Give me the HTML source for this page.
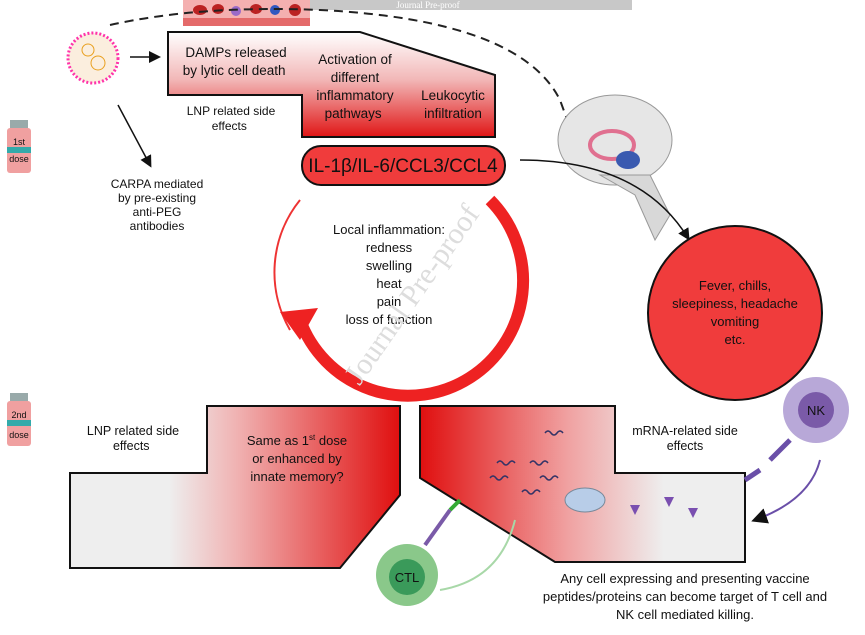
<!DOCTYPE html>
<html><head><meta charset="utf-8"><style>
body{margin:0;background:#fff;width:865px;height:630px;overflow:hidden;font-family:"Liberation Sans",sans-serif}
svg text{font-family:"Liberation Sans",sans-serif;fill:#111}
</style></head><body>
<svg width="865" height="630" viewBox="0 0 865 630" xmlns="http://www.w3.org/2000/svg">
<defs>
<linearGradient id="gv" x1="0" y1="0" x2="0" y2="1"><stop offset="0" stop-color="#fff"/><stop offset="0.45" stop-color="#f2b8b8"/><stop offset="1" stop-color="#e01515"/></linearGradient>
<linearGradient id="gl" x1="70" y1="0" x2="400" y2="0" gradientUnits="userSpaceOnUse"><stop offset="0" stop-color="#eee"/><stop offset="0.3" stop-color="#eee"/><stop offset="0.5" stop-color="#f0b4b4"/><stop offset="1" stop-color="#e00f0f"/></linearGradient>
<linearGradient id="gr" x1="420" y1="0" x2="745" y2="0" gradientUnits="userSpaceOnUse"><stop offset="0" stop-color="#e00f0f"/><stop offset="0.45" stop-color="#f0a0a0"/><stop offset="0.75" stop-color="#eee"/><stop offset="1" stop-color="#eee"/></linearGradient>
<marker id="ah" markerWidth="8" markerHeight="8" refX="6" refY="4" orient="auto"><path d="M0,0 L8,4 L0,8 z" fill="#111"/></marker>
</defs>
<!-- watermark bar -->
<rect x="225" y="0" width="407" height="10" fill="#c8c8c8"/>
<text x="428" y="8" font-size="9" text-anchor="middle" style="fill:#fff;font-family:'Liberation Serif',serif">Journal Pre-proof</text>
<!-- vessel -->
<rect x="183" y="0" width="127" height="26" fill="#e46a6a"/>
<rect x="183" y="0" width="127" height="18" fill="#f4b0b0"/>
<ellipse cx="200" cy="10" rx="7" ry="5" fill="#b22"/><ellipse cx="218" cy="9" rx="6" ry="5" fill="#b22"/><circle cx="236" cy="11" r="5" fill="#9a6ac8"/><ellipse cx="256" cy="9" rx="6" ry="5" fill="#b22"/><circle cx="275" cy="10" r="5" fill="#3158c0"/><circle cx="295" cy="10" r="6" fill="#b22"/>
<!-- dashed -->
<path d="M110,25 Q200,5 320,10 Q520,20 560,100 L580,155" fill="none" stroke="#222" stroke-width="2" stroke-dasharray="9,6" marker-end="url(#ah)"/>
<!-- LNP -->
<circle cx="93" cy="58" r="25" fill="#fbeede" stroke="#f3a" stroke-width="3" stroke-dasharray="2,2"/>
<circle cx="88" cy="50" r="6" fill="none" stroke="#e9a020"/><circle cx="98" cy="63" r="7" fill="none" stroke="#e9a020"/>
<line x1="130" y1="57" x2="158" y2="57" stroke="#111" stroke-width="1.5" marker-end="url(#ah)"/>
<line x1="118" y1="105" x2="150" y2="165" stroke="#111" stroke-width="1.5" marker-end="url(#ah)"/>
<!-- top shape -->
<path d="M168,32 L360,32 L495,75 L495,137 L302,137 L302,95 L168,95 Z" fill="url(#gv)" stroke="#111" stroke-width="2"/>
<text font-size="13.5" text-anchor="middle"><tspan x="236" y="57">DAMPs released</tspan><tspan x="236" y="75">by lytic cell death</tspan>
<tspan x="355" y="64">Activation of</tspan><tspan x="355" y="82">different</tspan><tspan x="355" y="100">inflammatory</tspan><tspan x="355" y="118">pathways</tspan>
<tspan x="453" y="100">Leukocytic</tspan><tspan x="453" y="118">infiltration</tspan></text>
<text font-size="12" text-anchor="middle"><tspan x="231" y="115">LNP related side</tspan><tspan x="231" y="130">effects</tspan>
<tspan x="157" y="188">CARPA mediated</tspan><tspan x="157" y="202">by pre-existing</tspan><tspan x="157" y="216">anti-PEG</tspan><tspan x="157" y="230">antibodies</tspan></text>
<!-- vials -->
<g><rect x="10" y="120" width="18" height="8" fill="#9aa"/><rect x="7" y="128" width="24" height="45" rx="3" fill="#f0a0a0"/><rect x="7" y="147" width="24" height="6" fill="#3aa"/><text x="19" y="145" font-size="9" text-anchor="middle">1st</text><text x="19" y="162" font-size="9" text-anchor="middle">dose</text></g>
<g><rect x="10" y="393" width="18" height="8" fill="#9aa"/><rect x="7" y="401" width="24" height="45" rx="3" fill="#f0a0a0"/><rect x="7" y="420" width="24" height="6" fill="#3aa"/><text x="19" y="418" font-size="9" text-anchor="middle">2nd</text><text x="19" y="438" font-size="9" text-anchor="middle">dose</text></g>
<!-- circle arrow -->
<path d="M300,200 A115,115 0 0 0 290,330" fill="none" stroke="#e33" stroke-width="2"/>
<path d="M490,200 A115,115 0 1 1 300,320" fill="none" stroke="#e22" stroke-width="12"/>
<path d="M280,312 L318,308 L300,340 Z" fill="#e22"/>
<rect x="302" y="146" width="203" height="39" rx="19" fill="#f03c3c" stroke="#111" stroke-width="2"/>
<text x="403" y="172" font-size="19" text-anchor="middle">IL-1β/IL-6/CCL3/CCL4</text>
<text font-size="13" text-anchor="middle"><tspan x="389" y="234">Local inflammation:</tspan><tspan x="389" y="252">redness</tspan><tspan x="389" y="270">swelling</tspan><tspan x="389" y="288">heat</tspan><tspan x="389" y="306">pain</tspan><tspan x="389" y="324">loss of function</tspan></text>
<text x="420" y="300" font-size="30" transform="rotate(-55 420 300)" text-anchor="middle" style="fill:#ddd;font-family:'Liberation Serif',serif">Journal Pre-proof</text>
<!-- brain -->
<ellipse cx="615" cy="140" rx="57" ry="45" fill="#e6e6e6" stroke="#999"/>
<ellipse cx="612" cy="145" rx="22" ry="14" fill="none" stroke="#e07090" stroke-width="4"/>
<ellipse cx="628" cy="160" rx="12" ry="9" fill="#3a5ab0"/>
<path d="M600,175 L650,175 L670,215 L655,240 L635,195 Z" fill="#d8d8d8" stroke="#999"/>
<path d="M520,160 Q640,160 688,238" fill="none" stroke="#111" stroke-width="1.5" marker-end="url(#ah)"/>
<circle cx="735" cy="313" r="87" fill="#f03c3c" stroke="#111" stroke-width="2"/>
<text font-size="13" text-anchor="middle"><tspan x="735" y="290">Fever, chills,</tspan><tspan x="735" y="308">sleepiness, headache</tspan><tspan x="735" y="326">vomiting</tspan><tspan x="735" y="344">etc.</tspan></text>
<!-- bottom shapes -->
<path d="M207,406 L400,406 L400,495 L340,568 L70,568 L70,473 L207,473 Z" fill="url(#gl)" stroke="#111" stroke-width="2"/>
<path d="M420,406 L615,406 L615,473 L745,473 L745,562 L555,562 L420,478 Z" fill="url(#gr)" stroke="#111" stroke-width="2"/>
<text font-size="12.5" text-anchor="middle"><tspan x="133" y="435">LNP related side</tspan><tspan x="133" y="450">effects</tspan>
<tspan x="685" y="435">mRNA-related side</tspan><tspan x="685" y="450">effects</tspan></text>
<text font-size="13" text-anchor="middle"><tspan x="297" y="445">Same as 1<tspan font-size="8" dy="-5">st</tspan><tspan dy="5"> dose</tspan></tspan><tspan x="297" y="463">or enhanced by</tspan><tspan x="297" y="481">innate memory?</tspan></text>
<g fill="none" stroke="#336" stroke-width="1.5"><path d="M545,433 q3,-4 6,0 q3,4 6,0 q3,-4 6,0"/><path d="M497,463 q3,-4 6,0 q3,4 6,0 q3,-4 6,0"/><path d="M530,463 q3,-4 6,0 q3,4 6,0 q3,-4 6,0"/><path d="M490,478 q3,-4 6,0 q3,4 6,0 q3,-4 6,0"/><path d="M540,478 q3,-4 6,0 q3,4 6,0 q3,-4 6,0"/><path d="M522,492 q3,-4 6,0 q3,4 6,0 q3,-4 6,0"/></g>
<ellipse cx="585" cy="500" rx="20" ry="12" fill="#b8cde8" stroke="#789"/>
<g fill="#7a4fb0"><path d="M630,505 l5,10 l5,-10 z M664,497 l5,10 l5,-10 z M688,508 l5,10 l5,-10 z"/></g>
<!-- NK -->
<circle cx="816" cy="410" r="33" fill="#b8a8d8"/><circle cx="816" cy="410" r="18" fill="#7a5aa8"/><text x="816" y="415" font-size="13" text-anchor="middle">NK</text>
<path d="M790,440 L770,460 M760,470 L745,480" stroke="#6a4fa8" stroke-width="5"/>
<path d="M820,460 Q810,500 755,520" fill="none" stroke="#6a4fa8" stroke-width="2" marker-end="url(#ah)"/>
<!-- CTL -->
<circle cx="407" cy="575" r="31" fill="#8ac88a"/><circle cx="407" cy="577" r="18" fill="#3a9a5a"/><text x="407" y="582" font-size="13" text-anchor="middle">CTL</text>
<path d="M425,545 L450,510" stroke="#7a5aa8" stroke-width="4"/><path d="M450,510 L460,500" stroke="#3a3" stroke-width="4"/>
<path d="M440,590 Q500,580 515,520" fill="none" stroke="#a8d8a8" stroke-width="2"/>
<text font-size="13" text-anchor="middle"><tspan x="685" y="583">Any cell  expressing and presenting  vaccine</tspan><tspan x="685" y="601">peptides/proteins can become target of T cell and</tspan><tspan x="685" y="619">NK cell mediated killing.</tspan></text>
</svg>
</body></html>
